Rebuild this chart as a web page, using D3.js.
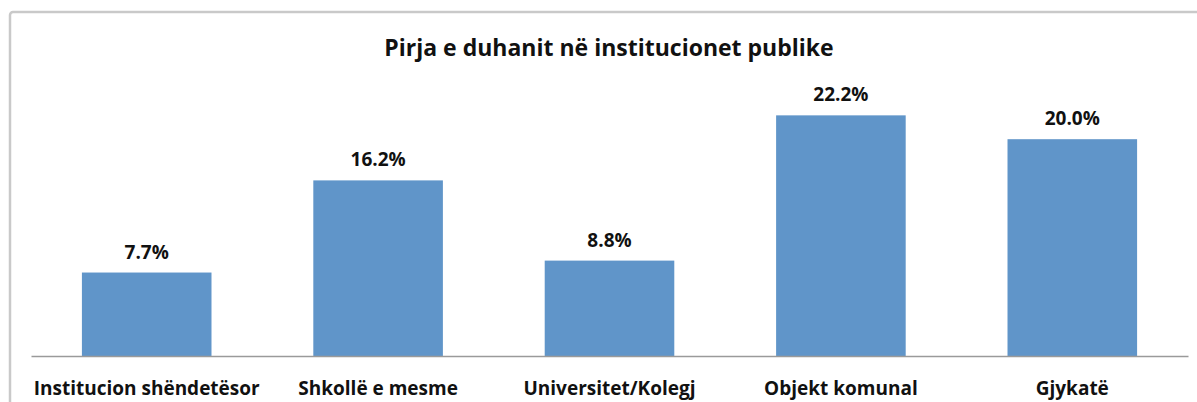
<!DOCTYPE html>
<html>
<head>
<meta charset="utf-8">
<script src="https://cdn.jsdelivr.net/npm/d3@7.9.0/dist/d3.min.js"></script>
<style>
  body { margin: 0; background: #fff; }
  svg { display: block; font-family: "Open Sans", Lato, sans-serif; }
</style>
</head>
<body>
<svg id="chart" width="1197" height="402"></svg>
<script>
const title = "Pirja e duhanit në institucionet publike";
const categories = ["Institucion shëndetësor", "Shkollë e mesme", "Universitet/Kolegj", "Objekt komunal", "Gjykatë"];
const values = [7.7, 16.2, 8.8, 22.2, 20.0];

const svg = d3.select("#chart");

// frame (cut off at right and bottom in the reference)
svg.append("rect")
  .attr("x", 10).attr("y", 12)
  .attr("width", 1220).attr("height", 430)
  .attr("rx", 3)
  .attr("fill", "#fff")
  .attr("stroke", "#c9c9c9")
  .attr("stroke-width", 2.5);

const x = d3.scaleBand()
  .domain(categories)
  .range([31, 1188])
  .paddingInner(0.44)
  .paddingOuter(0.22);

const y = d3.scaleLinear()
  .domain([0, 25])
  .range([356, 85]);

svg.append("text")
  .attr("x", 609).attr("y", 56)
  .attr("text-anchor", "middle")
  .attr("font-size", 23)
  .attr("font-weight", "bold")
  .attr("fill", "#111")
  .text(title);

const data = categories.map((c, i) => ({ cat: c, value: values[i] }));

svg.selectAll("rect.bar")
  .data(data)
  .join("rect")
  .attr("class", "bar")
  .attr("x", d => x(d.cat))
  .attr("y", d => y(d.value))
  .attr("width", x.bandwidth())
  .attr("height", d => y(0) - y(d.value))
  .attr("fill", "#6095c9");

svg.selectAll("text.val")
  .data(data)
  .join("text")
  .attr("class", "val")
  .attr("x", d => x(d.cat) + x.bandwidth() / 2)
  .attr("y", d => y(d.value) - 14)
  .attr("text-anchor", "middle")
  .attr("font-size", 19)
  .attr("font-weight", "bold")
  .attr("fill", "#111")
  .text(d => d.value.toFixed(1) + "%");

// category axis
const axis = svg.append("g")
  .attr("transform", `translate(0,${y(0)})`)
  .call(d3.axisBottom(x).tickSize(0).tickPadding(26));
axis.select(".domain").attr("stroke", "#9a9a9a").attr("stroke-width", 1.5);
axis.selectAll(".tick text")
  .attr("font-family", "'Open Sans', Lato, sans-serif")
  .attr("font-size", 19)
  .attr("font-weight", "bold")
  .attr("fill", "#111");
</script>
</body>
</html>
